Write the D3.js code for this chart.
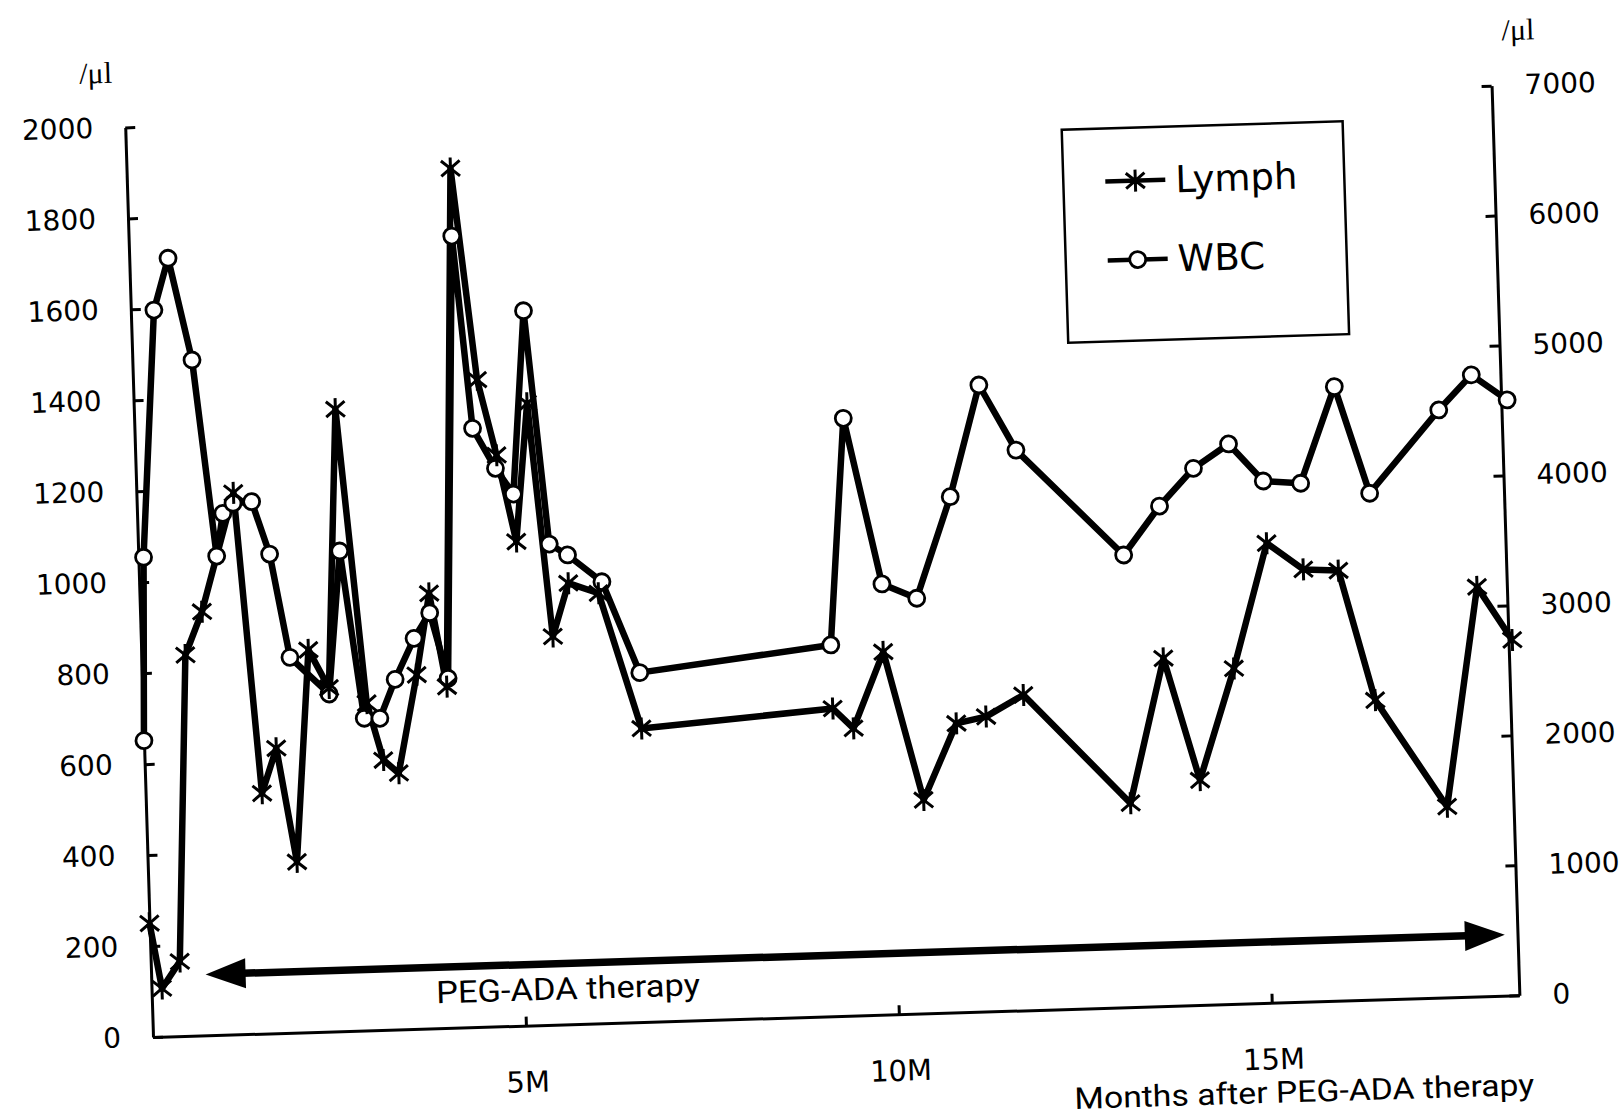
<!DOCTYPE html>
<html><head><meta charset="utf-8">
<script src="https://cdn.jsdelivr.net/npm/d3@7"></script>
<style>html,body{margin:0;padding:0;background:#fff;} svg{display:block;}</style>
</head><body>
<svg id="chart" width="1624" height="1116"></svg>
<script>
// ---- data ----
const lymphMonths = [0.00,0.14,0.39,0.59,0.83,1.30,1.56,1.77,2.00,2.24,2.50,2.70,3.00,3.20,3.40,3.68,3.88,4.08,4.34,4.61,4.84,5.07,5.27,5.52,5.75,6.15,6.67,9.24,9.51,9.94,10.42,10.89,11.29,11.80,13.19,13.69,14.13,14.63,15.12,15.60,16.07,16.51,17.43,17.92,18.37];
const lymphValues = [250,106,164,837,931,1190,528,626,375,840,755,1367,719,593,563,778,956,750,1888,1422,1255,1064,1367,853,969,945,645,676,631,797,469,635,648,693,448,764,494,737,1010,950,945,658,419,900,781];
const wbcMonths = [0.00,0.07,0.31,0.52,0.80,1.05,1.15,1.29,1.54,1.76,1.99,2.50,2.70,2.96,3.17,3.39,3.66,3.88,4.10,4.33,4.53,4.82,5.05,5.26,5.51,5.75,6.20,6.67,9.24,9.50,9.95,10.41,10.90,11.33,11.80,13.20,13.70,14.17,14.65,15.10,15.60,16.09,16.52,17.48,17.93,18.40];
const wbcValues = [2281,3691,5589,5984,5196,3683,4010,4085,4093,3686,2887,2596,3693,2401,2397,2693,3004,3197,2689,6088,4605,4292,4090,5497,3697,3609,3395,2687,2855,4595,3312,3194,3967,4819,4310,3478,3846,4128,4307,4014,3988,4723,3895,4519,4781,4580];
const leftTicks = [0,200,400,600,800,1000,1200,1400,1600,1800,2000];
const rightTicks = [0,1000,2000,3000,4000,5000,6000,7000];
const monthTicks = [5,10,15];
const monthLabels = ["5M","10M","15M"];
const seriesNames = ["Lymph","WBC"];
const unitLabel = "/\u03bcl";
const therapyLabel = "PEG-ADA therapy";
const xTitle = "Months after PEG-ADA therapy";
const therapyStart = 0.73, therapyEnd = 18.15, therapyLevel = 134;

// ---- layout ----
const W = 1367, H = 910;
const svg = d3.select("#chart");
svg.append("rect").attr("width",1624).attr("height",1116).attr("fill","#fff");
const g = svg.append("g").attr("transform","translate(153,1037) rotate(-1.75)");

const x = d3.scaleLinear().domain([0,18.32]).range([0,W]);
const yL = d3.scaleLinear().domain([0,2000]).range([0,-H]);
const yR = d3.scaleLinear().domain([0,7000]).range([0,-H]);

const axisFont = "'DejaVu Sans', Verdana, sans-serif";
const narrowFont = "'Liberation Sans Narrow','Arial Narrow','Roboto','Open Sans',sans-serif";
const fmt = d3.format("d");

function styleAxis(sel){
  sel.attr("font-size",28).attr("font-family",axisFont);
  sel.select(".domain").attr("stroke","#000").attr("stroke-width",3);
  sel.selectAll(".tick line").attr("stroke","#000").attr("stroke-width",3);
  sel.selectAll(".tick text").attr("fill","#000");
}

const axL = g.append("g").call(d3.axisLeft(yL).tickValues(leftTicks).tickFormat(fmt).tickSizeInner(-10).tickSizeOuter(0).tickPadding(32));
styleAxis(axL);
const axR = g.append("g").attr("transform",`translate(${W},0)`).call(d3.axisRight(yR).tickValues(rightTicks).tickFormat(fmt).tickSizeInner(-10).tickSizeOuter(0).tickPadding(33));
styleAxis(axR);
const axB = g.append("g").call(d3.axisBottom(x).tickValues(monthTicks).tickFormat((d,i)=>monthLabels[i]).tickSizeInner(-9).tickSizeOuter(0).tickPadding(46));
styleAxis(axB);
axB.selectAll(".tick text").attr("font-size",29);

// unit labels
g.append("text").attr("x",-28).attr("y",-H-45).attr("text-anchor","middle")
  .attr("font-family","'Liberation Serif','Times New Roman',serif").attr("font-size",30).text(unitLabel);
g.append("text").attr("x",W+28).attr("y",-H-45).attr("text-anchor","middle")
  .attr("font-family","'Liberation Serif','Times New Roman',serif").attr("font-size",30).text(unitLabel);

// therapy arrow
const ay = yL(therapyLevel), ax0 = x(therapyStart), ax1 = x(therapyEnd);
g.append("line").attr("x1",ax0+30).attr("x2",ax1-30).attr("y1",ay).attr("y2",ay)
  .attr("stroke","#000").attr("stroke-width",7.5);
g.append("path").attr("d",`M${ax0},${ay}L${ax0+40},${ay-15}L${ax0+40},${ay+15}Z`).attr("fill","#000");
g.append("path").attr("d",`M${ax1},${ay}L${ax1-40},${ay-15}L${ax1-40},${ay+15}Z`).attr("fill","#000");
g.append("text").attr("x",x(5.58)).attr("y",-25).attr("text-anchor","middle")
  .attr("font-family",narrowFont).attr("font-size",31)
  .attr("textLength",264).attr("lengthAdjust","spacingAndGlyphs").text(therapyLabel);
g.append("text").attr("x",x(15.4)).attr("y",100).attr("text-anchor","middle")
  .attr("font-family",narrowFont).attr("font-size",30)
  .attr("textLength",460).attr("lengthAdjust","spacingAndGlyphs").text(xTitle);

// series
const lymph = lymphMonths.map((m,i)=>[m,lymphValues[i]]);
const wbc = wbcMonths.map((m,i)=>[m,wbcValues[i]]);
const lineL = d3.line().x(d=>x(d[0])).y(d=>yL(d[1]));
const lineR = d3.line().x(d=>x(d[0])).y(d=>yR(d[1]));

g.append("path").attr("d",lineR(wbc)).attr("fill","none").attr("stroke","#000")
  .attr("stroke-width",6.5).attr("stroke-linejoin","round");
g.append("path").attr("d",lineL(lymph)).attr("fill","none").attr("stroke","#000")
  .attr("stroke-width",6.5).attr("stroke-linejoin","round");

const s = 11;
const starPath = `M0,${-s}V${s}M${-0.85*s},${-0.7*s}L${0.85*s},${0.7*s}M${-0.85*s},${0.7*s}L${0.85*s},${-0.7*s}`;
function drawStar(sel){
  sel.append("path").attr("d",starPath).attr("stroke","#000").attr("stroke-width",3).attr("fill","none");
}
function drawCircle(sel){
  sel.append("circle").attr("r",8).attr("fill","#fff").attr("stroke","#000").attr("stroke-width",2.8);
}

g.append("g").selectAll("g").data(wbc).join("g")
  .attr("transform",d=>`translate(${x(d[0])},${yR(d[1])})`).call(drawCircle);
g.append("g").selectAll("g").data(lymph).join("g")
  .attr("transform",d=>`translate(${x(d[0])},${yL(d[1])})`).call(drawStar);

// legend
const lg = g.append("g").attr("transform","translate(936,-879)");
lg.append("rect").attr("width",281).attr("height",213).attr("fill","#fff").attr("stroke","#000").attr("stroke-width",2.5);
const legendRows = [{name:seriesNames[0], dy:53, mark:drawStar},{name:seriesNames[1], dy:132, mark:drawCircle}];
legendRows.forEach(r=>{
  const row = lg.append("g").attr("transform",`translate(72,${r.dy})`);
  row.append("line").attr("x1",-30).attr("x2",30).attr("stroke","#000").attr("stroke-width",4.5);
  row.call(r.mark);
  row.append("text").attr("x",40).attr("y",13).attr("font-family",axisFont).attr("font-size",37).text(r.name);
});
</script>
</body></html>
